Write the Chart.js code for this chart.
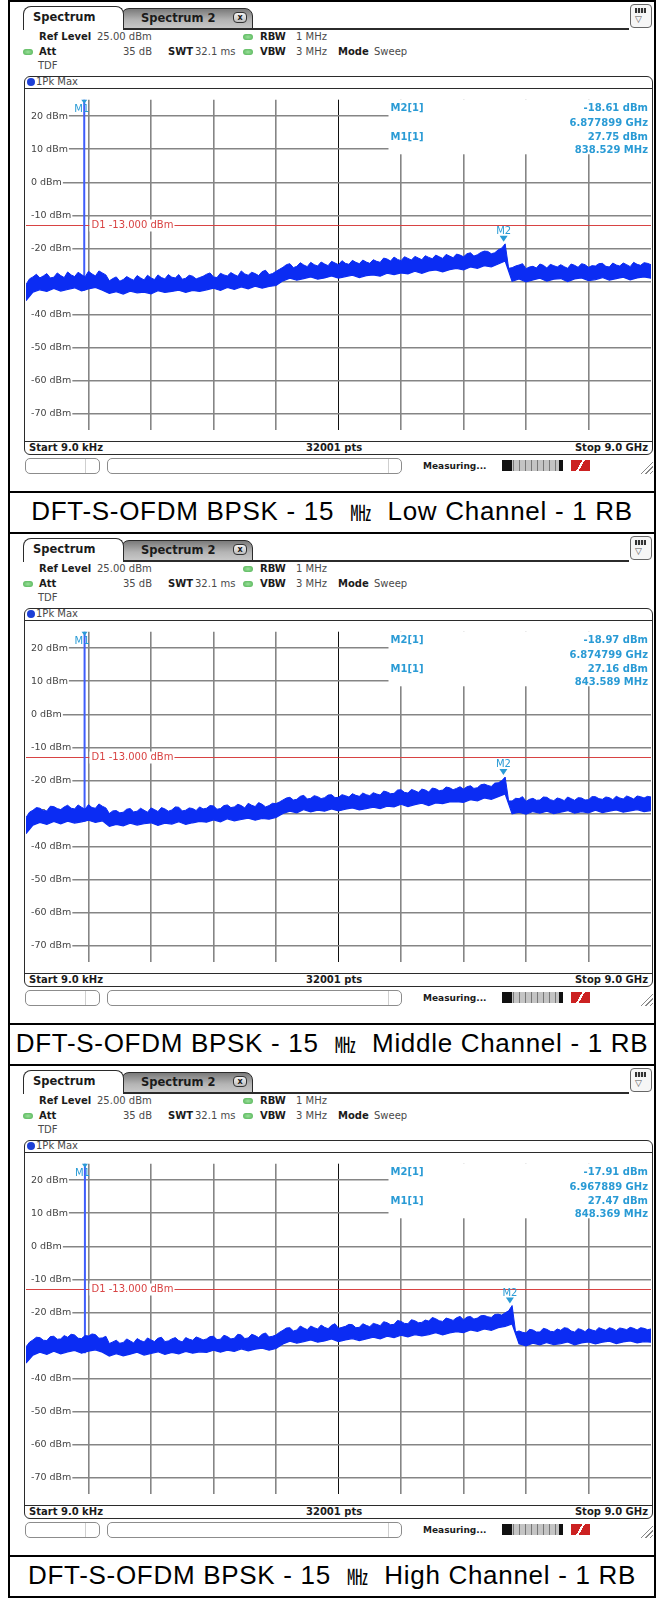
<!DOCTYPE html>
<html>
<head>
<meta charset="utf-8">
<title>Conducted spurious emissions - DFT-S-OFDM BPSK 15 MHz</title>
<script src="https://cdn.jsdelivr.net/npm/chart.js@4.4.1/dist/chart.umd.min.js"></script>
<style>
  html, body { margin:0; padding:0; background:#fff; }
  body { width:656px; height:1598px; position:relative; overflow:hidden;
         font-family:"DejaVu Sans", Verdana, sans-serif; color:#222; }
  .abs { position:absolute; }
  .blk { position:absolute; background:#000; }
  .unit { position:absolute; left:0; width:656px; height:532px; }
  .t { position:absolute; font-size:10px; line-height:12px; white-space:nowrap; }
  .t.b { font-weight:bold; color:#1b1b1b; }
  .t.v { color:#4a4a4a; }
  .tab { position:absolute; box-sizing:border-box; border:1.5px solid #2b2b2b; border-bottom:none;
         border-radius:8px 8px 0 0; font-weight:bold; font-size:11.5px; color:#1b1b1b; white-space:nowrap; }
  .tab.on { left:23px; top:6px; width:101px; height:24px; line-height:21px; padding-left:9px; background:#fff; z-index:2; }
  .tab.off { left:121px; top:8px; width:132px; height:22px; line-height:19px; padding-left:19px;
             background:linear-gradient(#7a7a7a, #b4b4b4 55%, #cacaca); border-bottom:1.5px solid #2b2b2b; }
  .tx { position:absolute; left:111px; top:3px; width:14px; height:11px; box-sizing:border-box; border:1px solid #333;
        border-radius:4px; background:linear-gradient(#f4f4f4,#bdbdbd); font-size:8px; line-height:9px; text-align:center; }
  .menu { position:absolute; left:630px; top:4px; width:22px; height:24px; box-sizing:border-box; border:1.5px solid #666;
          border-radius:4px; background:#f6f6f6; }
  .menu i { position:absolute; left:4px; top:3px; width:11px; height:5px; background:repeating-linear-gradient(90deg,#333 0 2px,#ddd 2px 3px); }
  .menu b { position:absolute; left:4px; top:9px; font-size:9px; line-height:10px; color:#555; font-weight:normal; }
  .led { position:absolute; width:10px; height:6px; border-radius:3px; background:radial-gradient(#9be09b,#4caf50); }
  .box { position:absolute; left:24px; top:76px; width:629px; height:379px; box-sizing:border-box;
         border:1.5px solid #2b2b2b; border-radius:6px; }
  .pkdot { position:absolute; left:27px; top:78px; width:8px; height:8px; border-radius:50%; background:#1d3fd6; }
  .sb { position:absolute; top:458px; height:16px; box-sizing:border-box; border:1px solid #8c8c8c; border-radius:5px; background:#fff; }
  .prog { position:absolute; left:502px; top:460px; width:61px; height:11px;
          background:linear-gradient(90deg,#111 0 10px,transparent 10px 57px,#111 57px),
                     repeating-linear-gradient(90deg,#c4c4c4 0 5px,#777 5px 6px); }
  .red { position:absolute; left:571px; top:460px; width:19px; height:11px;
         background:linear-gradient(120deg,#c22 0 45%,#fff 45% 55%,#c22 55%); }
  .grip { position:absolute; left:640px; top:459px; width:13px; height:15px;
          background:repeating-linear-gradient(135deg,transparent 0 2px,#888 2px 3px); clip-path:polygon(100% 0,100% 100%,0 100%); }
  .cap { position:absolute; left:10px; top:493px; width:644px; height:37px; line-height:37px; text-align:center;
         font-family:"Liberation Sans", Arial, sans-serif; font-size:26px; letter-spacing:0.7px; color:#000; white-space:nowrap; }
  .mhz { font-family:"Noto Sans CJK KR", sans-serif; font-size:21px; }
</style>
</head>
<body>
<script>
// colours of the analyser display
const TRACE = '#0b2cf3';
const GRID = '#858585';
const MARK = '#2a9bd5';
const D1_RED = '#d84343';

// sweep 9 kHz .. 9 GHz; top edge of the trace every 50 MHz, bottom edge every 100 MHz
const STOP_MHZ = 9000;
const xGrid = [900, 1800, 2700, 3600, 4500, 5400, 6300, 7200, 8100];
const yTicks = [20, 10, 0, -10, -20, -30, -40, -50, -60, -70];
const d1Level = -13;

const channels = ['Low', 'Middle', 'High'];
const m1Freq = [838.529, 843.589, 848.369];      // MHz
const m1Level = [27.75, 27.16, 27.47];           // dBm
const m2Freq = [6877.899, 6874.799, 6967.889];   // MHz
const m2Level = [-18.61, -18.97, -17.91];        // dBm

// max-hold trace, top edge of the noise band (dBm)
const lowUpper = [
  -30.9,-29.2,-28.6,-27.8,-28.9,-28.3,-27.6,-28.9,-28.7,-27.4,-28.2,-28.8,-27.1,-28.0,-28.5,-27.2,-27.9,-28.6,-26.9,-27.7,-28.3,-26.8,-27.4,-28.0,
  -29.8,-29.1,-28.6,-29.9,-29.4,-28.5,-29.1,-29.6,-28.2,-28.9,-29.5,-28.1,-28.9,-29.4,-28.0,-28.8,-29.2,-27.9,-28.7,-28.9,-27.9,-29.3,-29.0,-28.1,-28.4,-29.2,-28.8,-28.4,
  -27.8,-27.4,-28.6,-28.8,-27.5,-28.0,-28.3,-27.3,-27.9,-28.4,-26.8,-27.7,-28.1,-27.2,-27.6,-28.2,-27.0,-26.6,-27.9,-27.6,-26.9,-26.3,
  -25.7,-24.9,-24.6,-25.8,-25.4,-24.3,-25.0,-25.5,-24.2,-24.9,-25.3,-24.1,-24.7,-25.2,-23.9,-24.4,-24.9,-23.7,-24.5,-24.8,-23.6,-24.2,-24.6,-23.5,-24.1,-24.5,
  -23.4,-23.9,-24.2,-22.9,-23.2,-23.8,-22.6,-23.3,-23.7,-22.5,-23.0,-23.5,-22.4,-22.9,-23.4,-22.2,-22.7,-23.1,-22.0,-22.5,-23.0,-21.8,-22.3,-22.8,-21.7,-22.0,
  -22.5,-21.6,-21.3,-22.3,-21.9,-21.2,-20.8,-20.9,-21.6,-21.3,-20.4,-19.9,
  -18.61,-26.0,
  -25.8,-25.3,-25.0,-24.6,-26.1,-25.6,-25.4,-25.9,-24.7,-25.1,-25.9,-24.8,-25.2,-25.6,-24.9,-25.5,-26.0,-24.7,-25.1,-25.7,
  -24.6,-24.9,-25.7,-25.2,-25.3,-24.6,-24.5,-25.4,-25.6,-24.4,-25.0,-25.3,-24.4,-24.9,-25.5,-24.2,-24.8,-25.1,-24.3,-24.5,-24.9
];
const midUpper = [
  -31.2,-29.6,-29.0,-28.2,-28.4,-29.1,-29.2,-27.8,-27.9,-28.5,-28.8,-28.0,-27.5,-28.4,-28.6,-27.4,-28.1,-28.7,-27.3,-28.2,-28.4,-27.1,-27.8,-28.3,
  -30.0,-29.2,-29.1,-29.8,-29.6,-28.7,-28.5,-29.5,-29.3,-28.4,-29.0,-29.6,-28.3,-28.8,-29.4,-28.2,-28.6,-29.3,-28.9,-28.0,-28.1,-29.2,-29.0,-28.3,-28.5,-29.1,-28.0,-28.6,
  -28.4,-27.6,-27.7,-28.7,-28.5,-27.6,-27.4,-28.2,-28.0,-27.2,-27.6,-28.3,-26.9,-27.5,-27.9,-26.7,-27.2,-28.0,-27.6,-26.9,-27.0,-26.5,
  -25.9,-25.3,-25.1,-25.9,-25.7,-24.8,-24.5,-25.6,-25.4,-24.6,-24.9,-25.5,-25.2,-24.4,-24.3,-25.2,-25.1,-24.3,-24.6,-25.0,-24.0,-24.5,-24.8,-23.8,-24.3,-24.6,
  -23.7,-24.1,-24.4,-23.2,-23.5,-24.0,-23.9,-22.9,-22.8,-23.6,-23.8,-22.7,-23.1,-23.6,-22.6,-22.9,-23.5,-22.3,-22.5,-23.1,-22.9,-22.0,-22.2,-22.8,-22.4,-21.9,
  -22.6,-21.9,-21.6,-22.4,-22.2,-21.3,-21.1,-21.5,-21.8,-20.8,-20.7,-20.1,
  -18.97,-26.2,
  -26.2,-25.4,-25.5,-24.9,-26.3,-25.7,-25.4,-26.0,-25.9,-25.0,-25.1,-25.8,-26.1,-25.3,-25.6,-26.1,-25.0,-25.5,-26.0,-25.2,
  -25.3,-25.9,-25.8,-24.9,-24.9,-25.5,-25.7,-25.0,-25.2,-25.8,-24.8,-25.3,-25.6,-24.7,-25.1,-25.6,-24.7,-24.9,-25.3,-24.8,-25.0
];
const highUpper = [
  -30.4,-29.0,-28.3,-27.5,-27.6,-28.4,-28.5,-27.3,-27.2,-28.1,-28.0,-27.0,-27.5,-26.6,-26.8,-27.8,-27.9,-27.0,-27.1,-26.5,-26.7,-27.8,-27.7,-27.2,
  -29.4,-28.9,-28.4,-29.3,-29.1,-28.0,-28.6,-29.2,-27.9,-28.5,-28.9,-27.7,-28.3,-28.8,-27.8,-27.5,-28.8,-28.6,-28.0,-27.6,-28.5,-28.9,-27.6,-28.1,-28.4,-27.4,-27.8,-28.3,
  -28.0,-27.3,-27.2,-28.2,-28.1,-26.9,-27.3,-28.0,-27.8,-26.6,-26.8,-27.9,-27.7,-26.6,-27.0,-27.6,-26.6,-26.2,-27.4,-27.2,-26.8,-26.0,
  -25.4,-24.7,-24.6,-25.6,-25.3,-24.1,-24.7,-25.2,-24.1,-24.6,-25.0,-23.8,-24.5,-24.9,-23.9,-23.4,-24.8,-24.5,-24.2,-23.6,-23.7,-24.6,-24.5,-23.4,-23.9,-24.3,
  -23.3,-23.6,-24.0,-22.8,-23.1,-23.7,-23.6,-22.4,-22.7,-23.3,-23.4,-22.2,-22.5,-23.1,-23.0,-22.3,-22.6,-21.5,-21.9,-22.5,-22.7,-21.7,-22.0,-22.4,-21.6,-21.2,
  -22.2,-21.4,-21.2,-22.0,-21.7,-21.0,-20.9,-21.3,-21.5,-20.6,-20.5,-20.8,-20.1,-19.5,
  -17.91,-25.9,
  -25.6,-26.0,-26.2,-25.1,-25.3,-25.9,-25.9,-24.8,-25.1,-25.7,-25.8,-25.0,-25.4,-24.6,-24.8,-25.6,-25.9,-24.9,-25.2,-25.8,
  -24.9,-25.3,-25.6,-24.6,-25.0,-25.4,-24.6,-24.9,-25.5,-24.7,-24.9,-25.2,-24.5,-24.8,-25.3,-24.6,-24.8,-25.2,-25.0
];

// bottom edge of the noise band (dBm)
const lowLower = [
  -35.8,-33.2,-32.5,-33.0,-32.1,-32.9,-32.4,-31.9,-32.8,-32.2,-31.8,-32.6,
  -33.6,-33.1,-33.8,-32.9,-33.4,-33.2,-33.7,-32.8,-33.3,-33.0,-32.6,-33.3,-32.7,-33.0,
  -32.5,-32.0,-32.7,-31.8,-32.4,-31.6,-32.2,-31.4,-32.0,-31.5,-31.2,
  -29.8,-29.0,-29.6,-29.1,-28.6,-29.3,-28.9,-28.3,-29.0,-28.5,-28.1,-28.8,-28.2,
  -28.0,-28.4,-27.5,-27.9,-27.4,-27.7,-26.9,-27.5,-26.8,-26.5,-27.1,-26.4,-26.0,
  -26.5,-25.6,-26.0,-25.2,-25.6,-24.7,
  -23.8,
  -29.9,-29.2,-30.1,-29.5,-29.0,-29.9,-29.3,-29.1,-30.0,-29.2,-28.9,-29.7,-29.4,-28.8,-29.6,-29.1,-28.7,-29.5,-28.9,-28.6,-29.0
];
const midLower = [
  -36.1,-33.5,-32.7,-33.3,-32.4,-33.1,-32.3,-32.9,-32.5,-32.0,-32.7,-32.2,
  -33.9,-33.3,-33.7,-32.9,-33.5,-33.1,-32.8,-33.6,-32.9,-33.2,-32.5,-33.3,-32.8,-32.4,
  -32.6,-31.9,-32.5,-31.6,-32.2,-31.8,-31.4,-32.0,-31.5,-31.7,-31.2,
  -30.0,-29.3,-29.8,-28.8,-29.5,-29.0,-29.3,-28.6,-29.2,-28.7,-28.3,-28.9,-28.5,
  -28.1,-28.5,-27.8,-28.0,-27.2,-27.9,-27.3,-26.9,-27.6,-26.8,-27.0,-26.5,-26.4,
  -26.6,-25.8,-26.2,-25.3,-25.7,-24.9,
  -24.1,
  -30.1,-29.6,-30.2,-29.4,-29.9,-29.3,-30.0,-29.6,-29.1,-29.9,-29.4,-29.8,-29.0,-29.7,-29.3,-28.9,-29.6,-29.2,-28.8,-29.4,-29.1
];
const highLower = [
  -35.3,-32.9,-32.0,-32.7,-31.7,-32.5,-31.9,-31.5,-32.3,-31.7,-31.3,-32.0,
  -33.2,-32.5,-33.1,-32.6,-32.0,-32.9,-32.4,-31.9,-32.7,-32.1,-32.5,-31.8,-32.3,-31.9,
  -32.1,-31.4,-32.0,-31.4,-31.8,-31.0,-31.6,-31.1,-30.8,-31.4,-30.9,
  -29.5,-28.7,-29.3,-28.8,-28.3,-29.0,-28.6,-28.0,-28.8,-28.3,-27.9,-28.5,-28.0,
  -27.5,-28.0,-27.2,-27.6,-26.9,-27.4,-26.7,-27.1,-26.7,-26.1,-26.8,-26.2,-25.8,
  -26.1,-25.3,-25.7,-25.0,-25.4,-24.6,-24.2,
  -23.5,
  -29.5,-30.1,-29.3,-29.8,-29.1,-29.7,-29.4,-28.9,-29.8,-29.2,-28.9,-29.5,-29.0,-28.7,-29.4,-28.9,-28.6,-29.2,-28.8,-29.0
];
const upper = [lowUpper, midUpper, highUpper];
const lower = [lowLower, midLower, highLower];

const UNIT_H = 532;

function panelHtml(p) {
  return `
  <div class="blk" style="left:8px;top:0;width:648px;height:2px"></div>
  <div class="blk" style="left:8px;top:0;width:2px;height:${UNIT_H}px"></div>
  <div class="blk" style="left:654px;top:0;width:2px;height:${UNIT_H}px"></div>
  <div class="blk" style="left:8px;top:491px;width:648px;height:2px"></div>

  <div class="tab off">Spectrum 2<span class="tx">x</span></div>
  <div class="tab on">Spectrum</div>
  <div class="abs" style="left:123px;top:28px;width:506px;height:2px;background:#2b2b2b"></div>
  <div class="menu"><i></i><b>&#9661;</b></div>

  <span class="t b" style="left:39px;top:31px">Ref Level</span>
  <span class="t v" style="left:97px;top:31px">25.00 dBm</span>
  <span class="led" style="left:243px;top:34px"></span>
  <span class="t b" style="left:260px;top:31px">RBW</span>
  <span class="t v" style="left:296px;top:31px">1 MHz</span>

  <span class="led" style="left:23px;top:49px"></span>
  <span class="t b" style="left:39px;top:46px">Att</span>
  <span class="t v" style="right:504px;top:46px">35 dB</span>
  <span class="t b" style="left:168px;top:46px">SWT</span>
  <span class="t v" style="left:195px;top:46px">32.1 ms</span>
  <span class="led" style="left:243px;top:49px"></span>
  <span class="t b" style="left:260px;top:46px">VBW</span>
  <span class="t v" style="left:296px;top:46px">3 MHz</span>
  <span class="t b" style="left:338px;top:46px">Mode</span>
  <span class="t v" style="left:374px;top:46px">Sweep</span>
  <span class="t v" style="left:38px;top:60px">TDF</span>

  <div class="box"></div>
  <span class="pkdot"></span>
  <span class="t v" style="left:36px;top:76px">1Pk Max</span>
  <div class="abs" style="left:25px;top:88px;width:627px;height:1px;background:#2b2b2b"></div>
  <canvas id="trace${p}" class="abs" width="625" height="352" style="left:26px;top:89px"></canvas>
  <div class="abs" style="left:25px;top:441px;width:627px;height:1px;background:#2b2b2b"></div>
  <span class="t b" style="left:29px;top:442px">Start 9.0 kHz</span>
  <span class="t b" style="left:306px;top:442px">32001 pts</span>
  <span class="t b" style="right:8px;top:442px">Stop 9.0 GHz</span>

  <div class="sb" style="left:25px;width:75px"></div>
  <div class="abs" style="left:85px;top:459px;width:1px;height:14px;background:#cfcfcf"></div>
  <div class="sb" style="left:107px;width:295px"></div>
  <div class="abs" style="left:388px;top:459px;width:1px;height:14px;background:#cfcfcf"></div>
  <span class="t b" style="left:423px;top:460px;font-size:9px">Measuring...</span>
  <div class="prog"></div>
  <div class="red"></div>
  <div class="grip"></div>

  <div class="cap">DFT-S-OFDM BPSK - 15&nbsp; <span class="mhz">&#13202;</span>&nbsp; ${channels[p]} Channel - 1 RB</div>`;
}

// marker table, display line and marker symbols
function overlay(p) {
  return {
    id: 'overlay' + p,
    beforeDatasetsDraw(chart) {
      const { ctx, chartArea: a, scales: { x, y } } = chart;
      ctx.save();
      // display line D1
      const yd = Math.round(y.getPixelForValue(d1Level)) + 0.5;
      ctx.strokeStyle = D1_RED;
      ctx.lineWidth = 1;
      ctx.beginPath(); ctx.moveTo(a.left, yd); ctx.lineTo(a.right, yd); ctx.stroke();
      ctx.font = '10px "DejaVu Sans"';
      const d1 = 'D1 ' + d1Level.toFixed(3) + ' dBm';
      const lx = x.getPixelForValue(xGrid[0]) + 1;
      const w = ctx.measureText(d1).width;
      ctx.fillStyle = '#fff';
      ctx.fillRect(lx, yd - 6, w + 3, 12);
      ctx.fillStyle = D1_RED;
      ctx.textBaseline = 'middle';
      ctx.fillText(d1, lx + 2, yd);

      // marker table in the upper right corner
      const bx = a.left + a.width * 0.58;
      const by = y.getPixelForValue(yTicks[1]) + 5;
      ctx.fillStyle = '#fff';
      ctx.fillRect(bx, a.top, a.right - bx, by - a.top);
      ctx.fillStyle = MARK;
      ctx.font = 'bold 10px "DejaVu Sans"';
      ctx.textAlign = 'left';
      ctx.fillText('M2[1]', bx + 2, a.top + 9);
      ctx.fillText('M1[1]', bx + 2, a.top + 38);
      ctx.textAlign = 'right';
      const rx = a.right - 3;
      ctx.fillText(m2Level[p].toFixed(2) + ' dBm', rx, a.top + 9);
      ctx.fillText((m2Freq[p] / 1000).toFixed(6) + ' GHz', rx, a.top + 23.5);
      ctx.fillText(m1Level[p].toFixed(2) + ' dBm', rx, a.top + 38);
      ctx.fillText(m1Freq[p].toFixed(3) + ' MHz', rx, a.top + 51);
      ctx.restore();
    },
    afterDatasetsDraw(chart) {
      const { ctx, chartArea: a, scales: { x, y } } = chart;
      ctx.save();
      ctx.fillStyle = MARK;
      ctx.font = '10px "DejaVu Sans"';
      ctx.textAlign = 'center';
      ctx.textBaseline = 'alphabetic';
      // M2 on the trace
      const mx = x.getPixelForValue(m2Freq[p]);
      const my = y.getPixelForValue(m2Level[p]) - 2;
      ctx.beginPath();
      ctx.moveTo(mx - 4, my - 6); ctx.lineTo(mx + 4, my - 6); ctx.lineTo(mx, my);
      ctx.closePath(); ctx.fill();
      ctx.fillText('M2', mx, my - 8);
      // M1 sits above the top of the screen, shown at the upper edge
      const m1x = x.getPixelForValue(m1Freq[p]);
      const m1y = Math.max(a.top, y.getPixelForValue(m1Level[p]));
      ctx.beginPath();
      ctx.moveTo(m1x - 3, m1y); ctx.lineTo(m1x + 3, m1y); ctx.lineTo(m1x, m1y + 4);
      ctx.closePath(); ctx.fill();
      ctx.textAlign = 'right';
      ctx.fillText('M1', m1x + 5, m1y + 12);
      ctx.restore();
    }
  };
}

// spread an edge array evenly over the sweep span
const sweepPts = arr => arr.map((v, i) => ({ x: i * STOP_MHZ / (arr.length - 1), y: v }));

function drawTrace(p) {
  const lo = lower[p];
  const spikeBase = lo[Math.round(m1Freq[p] / STOP_MHZ * (lo.length - 1))];
  return new Chart(document.getElementById('trace' + p), {
    type: 'line',
    data: {
      datasets: [
        { data: sweepPts(upper[p]), borderColor: TRACE, borderWidth: 1, pointRadius: 0,
          fill: '+1', backgroundColor: TRACE },
        { data: sweepPts(lo), borderColor: TRACE, borderWidth: 1.2, pointRadius: 0, fill: false },
        { data: [{ x: m1Freq[p], y: spikeBase }, { x: m1Freq[p], y: m1Level[p] }],
          borderColor: '#3f5dfb', borderWidth: 2, pointRadius: 0, fill: false }
      ]
    },
    options: {
      responsive: false,
      animation: false,
      events: [],
      layout: { padding: 0 },
      plugins: { legend: { display: false }, tooltip: { enabled: false } },
      scales: {
        x: {
          type: 'linear', min: 0, max: STOP_MHZ,
          afterBuildTicks: s => { s.ticks = xGrid.map(v => ({ value: v })); },
          afterFit: s => { s.height = 0; },
          ticks: { display: false },
          border: { display: false },
          grid: {
            drawTicks: false,
            color: c => (c.tick && c.tick.value === 4500) ? '#111' : GRID,
            lineWidth: c => (c.tick && c.tick.value === 4500) ? 1 : 1.6
          }
        },
        y: {
          type: 'linear', min: -75, max: 25,
          afterBuildTicks: s => { s.ticks = yTicks.map(v => ({ value: v })); },
          afterFit: s => { s.width = 0; },
          border: { display: false },
          grid: { drawTicks: false, color: GRID, lineWidth: 1.6 },
          ticks: {
            mirror: true, padding: 5, color: '#444',
            font: { family: 'DejaVu Sans', size: 9.5 },
            callback: v => v + ' dBm',
            showLabelBackdrop: true, backdropColor: '#fff',
            backdropPadding: { top: 0, bottom: 0, left: 5, right: 1 }
          }
        }
      }
    },
    plugins: [overlay(p)]
  });
}

channels.forEach((ch, p) => {
  const unit = document.createElement('div');
  unit.className = 'unit';
  unit.style.top = (p * UNIT_H) + 'px';
  unit.innerHTML = panelHtml(p);
  document.body.appendChild(unit);
  drawTrace(p);
});

// closing border under the last caption
const last = document.createElement('div');
last.className = 'blk';
last.style.cssText = 'left:8px;top:' + (3 * UNIT_H) + 'px;width:648px;height:2px';
document.body.appendChild(last);
</script>
</body>
</html>
